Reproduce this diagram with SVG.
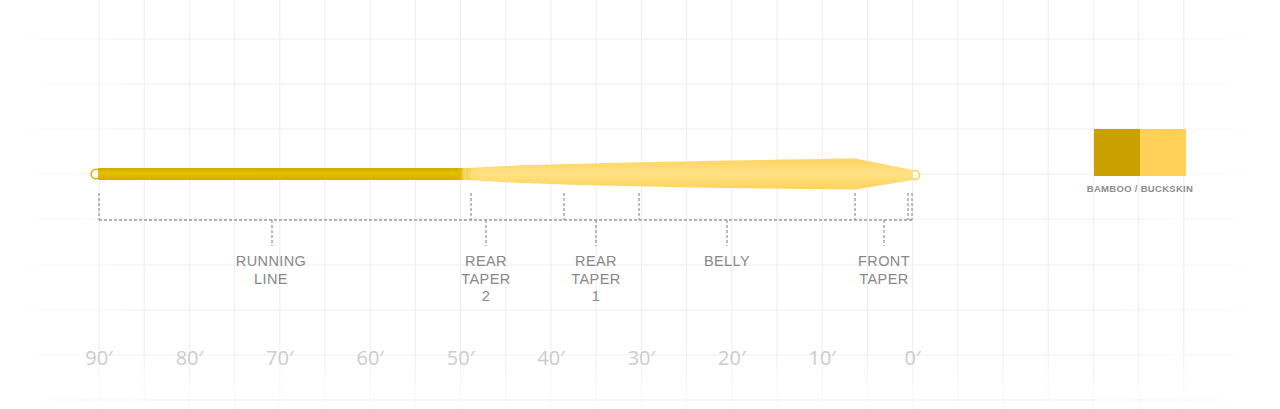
<svg xmlns="http://www.w3.org/2000/svg" width="1280" height="409" viewBox="0 0 1280 409">
<defs>
<linearGradient id="hfade" gradientUnits="userSpaceOnUse" x1="0" y1="0" x2="1280" y2="0">
<stop offset="0" stop-color="#efefef" stop-opacity="0"/>
<stop offset="0.12" stop-color="#efefef" stop-opacity="1"/>
<stop offset="0.85" stop-color="#efefef" stop-opacity="1"/>
<stop offset="1" stop-color="#efefef" stop-opacity="0"/>
</linearGradient>
<linearGradient id="vfade" gradientUnits="userSpaceOnUse" x1="0" y1="0" x2="0" y2="409">
<stop offset="0" stop-color="#efefef" stop-opacity="1"/>
<stop offset="0.85" stop-color="#efefef" stop-opacity="1"/>
<stop offset="1" stop-color="#efefef" stop-opacity="0.2"/>
</linearGradient>
<linearGradient id="runGrad" x1="0" y1="0" x2="0" y2="1">
<stop offset="0" stop-color="#d2aa00"/>
<stop offset="0.45" stop-color="#e4c200"/>
<stop offset="1" stop-color="#d2aa00"/>
</linearGradient>
<linearGradient id="headGrad" gradientUnits="userSpaceOnUse" x1="0" y1="158" x2="0" y2="190">
<stop offset="0" stop-color="#ffd460"/>
<stop offset="0.5" stop-color="#ffe185"/>
<stop offset="1" stop-color="#ffd25a"/>
</linearGradient>
<linearGradient id="blend" gradientUnits="userSpaceOnUse" x1="458" y1="0" x2="478" y2="0">
<stop offset="0" stop-color="#dcb800" stop-opacity="1"/>
<stop offset="1" stop-color="#ffdb75" stop-opacity="0"/>
</linearGradient>
<style>
.grid-h{stroke:url(#hfade);stroke-width:1.2}
.grid-v{stroke:url(#vfade);stroke-width:1.2}
.dash{stroke:#9a9a9a;stroke-width:1.3;stroke-dasharray:3 2;fill:none}
.lbl{font-family:"Liberation Sans",Arial,sans-serif;font-size:14.5px;fill:#888;text-anchor:middle;letter-spacing:0.4px}
.num{font-family:"Open Sans","Liberation Sans",sans-serif;font-size:20px;fill:#cccccc;text-anchor:middle}
.leg{font-family:"Liberation Sans",Arial,sans-serif;font-size:9.5px;font-weight:bold;fill:#8c8c8c;text-anchor:middle;letter-spacing:0.3px}
</style>
</defs>
<rect width="1280" height="409" fill="#ffffff"/>
<g id="grid">
<line class="grid-h" x1="0" y1="39" x2="1280" y2="39"/>
<line class="grid-h" x1="0" y1="84" x2="1280" y2="84"/>
<line class="grid-h" x1="0" y1="129" x2="1280" y2="129"/>
<line class="grid-h" x1="0" y1="174" x2="1280" y2="174"/>
<line class="grid-h" x1="0" y1="219" x2="1280" y2="219"/>
<line class="grid-h" x1="0" y1="265" x2="1280" y2="265"/>
<line class="grid-h" x1="0" y1="310" x2="1280" y2="310"/>
<line class="grid-h" x1="0" y1="355" x2="1280" y2="355"/>
<line class="grid-h" x1="0" y1="400" x2="1280" y2="400"/>
<line class="grid-v" x1="99" y1="0" x2="99" y2="409"/>
<line class="grid-v" x1="144.2" y1="0" x2="144.2" y2="409"/>
<line class="grid-v" x1="189.4" y1="0" x2="189.4" y2="409"/>
<line class="grid-v" x1="234.6" y1="0" x2="234.6" y2="409"/>
<line class="grid-v" x1="279.8" y1="0" x2="279.8" y2="409"/>
<line class="grid-v" x1="325" y1="0" x2="325" y2="409"/>
<line class="grid-v" x1="370.2" y1="0" x2="370.2" y2="409"/>
<line class="grid-v" x1="415.4" y1="0" x2="415.4" y2="409"/>
<line class="grid-v" x1="460.6" y1="0" x2="460.6" y2="409"/>
<line class="grid-v" x1="505.8" y1="0" x2="505.8" y2="409"/>
<line class="grid-v" x1="551" y1="0" x2="551" y2="409"/>
<line class="grid-v" x1="596.2" y1="0" x2="596.2" y2="409"/>
<line class="grid-v" x1="641.4" y1="0" x2="641.4" y2="409"/>
<line class="grid-v" x1="686.6" y1="0" x2="686.6" y2="409"/>
<line class="grid-v" x1="731.8" y1="0" x2="731.8" y2="409"/>
<line class="grid-v" x1="777" y1="0" x2="777" y2="409"/>
<line class="grid-v" x1="822.2" y1="0" x2="822.2" y2="409"/>
<line class="grid-v" x1="867.4" y1="0" x2="867.4" y2="409"/>
<line class="grid-v" x1="912.6" y1="0" x2="912.6" y2="409"/>
<line class="grid-v" x1="957.8" y1="0" x2="957.8" y2="409"/>
<line class="grid-v" x1="1003" y1="0" x2="1003" y2="409"/>
<line class="grid-v" x1="1048.2" y1="0" x2="1048.2" y2="409"/>
<line class="grid-v" x1="1093.4" y1="0" x2="1093.4" y2="409"/>
<line class="grid-v" x1="1138.6" y1="0" x2="1138.6" y2="409"/>
<line class="grid-v" x1="1183.8" y1="0" x2="1183.8" y2="409"/>
</g>
<g id="flyline">
<circle cx="96" cy="174" r="4.8" fill="#ffffff" stroke="#d9b400" stroke-width="1.6"/>
<circle cx="915" cy="175" r="4.5" fill="#ffffff" stroke="#ffd25a" stroke-width="1.6"/>
<path d="M466,168 L520,165.3 Q640,161.5 855,158.5 L913,170 L913,180 L855,189.5 Q640,187.5 520,183 L466,180 Z" fill="url(#headGrad)"/>
<rect x="98" y="168" width="364" height="12" fill="url(#runGrad)"/>
<rect x="458" y="168" width="20" height="12" fill="url(#blend)"/>
</g>
<g id="connectors">
<path class="dash" d="M99,193 V220 M471,193 V220 M564,193 V220 M639,193 V220 M855,193 V220 M908,193 V220 M912,193 V220"/>
<path class="dash" d="M99,220 H912"/>
<path class="dash" d="M272,220 V246 M486,220 V246 M596,220 V246 M727,220 V246 M884,220 V246"/>
</g>
<g id="label-running-line">
<text class="lbl" x="271" y="266">RUNNING</text>
<text class="lbl" x="271" y="283.5">LINE</text>
</g>
<g id="label-rear-taper-2">
<text class="lbl" x="486" y="266">REAR</text>
<text class="lbl" x="486" y="283.5">TAPER</text>
<text class="lbl" x="486" y="301">2</text>
</g>
<g id="label-rear-taper-1">
<text class="lbl" x="596" y="266">REAR</text>
<text class="lbl" x="596" y="283.5">TAPER</text>
<text class="lbl" x="596" y="301">1</text>
</g>
<g id="label-belly">
<text class="lbl" x="727" y="266">BELLY</text>
</g>
<g id="label-front-taper">
<text class="lbl" x="884" y="266">FRONT</text>
<text class="lbl" x="884" y="283.5">TAPER</text>
</g>
<g id="scale">
<text class="num" x="99" y="365">90′</text>
<text class="num" x="189.4" y="365">80′</text>
<text class="num" x="279.8" y="365">70′</text>
<text class="num" x="370.2" y="365">60′</text>
<text class="num" x="460.6" y="365">50′</text>
<text class="num" x="551" y="365">40′</text>
<text class="num" x="641.4" y="365">30′</text>
<text class="num" x="731.8" y="365">20′</text>
<text class="num" x="822.2" y="365">10′</text>
<text class="num" x="912.6" y="365">0′</text>
</g>
<g id="legend">
<rect x="1094" y="129" width="46" height="47" fill="#c9a000"/>
<rect x="1140" y="129" width="46" height="47" fill="#ffd257"/>
<text class="leg" x="1140" y="192">BAMBOO / BUCKSKIN</text>
</g>
</svg>
